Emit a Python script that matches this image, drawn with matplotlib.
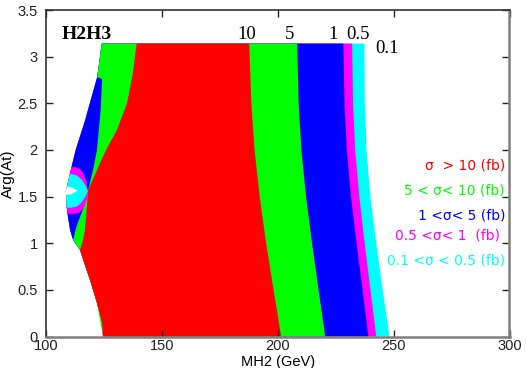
import numpy as np
import matplotlib
matplotlib.use("Agg")
import matplotlib.pyplot as plt
from matplotlib.patches import Polygon

# ---------------- data ----------------
# right-hand contour boundaries MH2 (GeV) versus Arg(At)
y_right = [0.0, 0.5, 1.0, 1.5, 2.0, 2.5, 3.14]
r10 = [201.5, 198.2, 195.0, 192.2, 190.0, 188.6, 187.7]
r5 = [220.5, 217.6, 214.8, 212.2, 210.2, 209.0, 208.4]
r1 = [239.1, 236.6, 234.0, 231.6, 229.8, 228.8, 228.3]
r05 = [242.5, 240.0, 237.5, 235.2, 233.4, 232.5, 232.1]
r01 = [248.2, 245.3, 242.5, 240.0, 238.3, 237.6, 237.4]

# outer left edge of the allowed region
outer_y = [0.0, 0.145, 0.359, 0.606, 0.766, 0.927, 1.034, 1.142, 1.281, 1.410,
           1.560, 1.656, 1.785, 1.999, 2.320, 2.535, 2.781, 2.964, 3.14]
outer_x = [124.6, 124.2, 122.0, 119.0, 116.8, 114.7, 111.7, 110.4, 109.5, 108.8,
           108.6, 109.5, 110.7, 112.8, 116.9, 119.3, 122.1, 123.1, 124.0]

# left edge of the 5 fb (green) region
l5_y = [0.0, 0.359, 0.606, 0.927, 1.034, 1.174, 1.281, 1.410, 1.560, 1.785,
        1.999, 2.428, 2.760, 2.781, 2.964, 3.14]
l5_x = [124.6, 122.0, 119.0, 114.7, 111.7, 113.1, 114.7, 116.6, 118.1, 120.3,
        122.0, 123.6, 124.2, 122.1, 123.1, 124.0]

# left edge of the 10 fb (red) region
l10_y = [0.0, 0.145, 0.359, 0.606, 0.766, 0.927, 1.034, 1.142, 1.281, 1.410,
         1.560, 1.785, 1.999, 2.213, 2.503, 2.824, 3.14]
l10_x = [124.6, 124.2, 122.0, 119.0, 116.8, 114.7, 116.0, 116.8, 117.3, 117.7,
         118.1, 122.0, 125.9, 130.6, 135.0, 137.5, 139.1]

# dip near Arg(At) ~ pi/2
blob05_x = [106.0, 112.5, 114.6, 116.4, 117.6, 118.1, 117.6, 116.4, 114.6, 112.5, 106.0]
blob05_y = [1.815, 1.815, 1.80, 1.74, 1.65, 1.56, 1.47, 1.38, 1.33, 1.315, 1.315]
blob01_x = [106.0, 111.0, 113.4, 115.5, 117.2, 118.1, 117.2, 115.5, 113.4, 111.0, 106.0]
blob01_y = [1.735, 1.74, 1.725, 1.68, 1.61, 1.56, 1.51, 1.44, 1.395, 1.38, 1.385]
notch_x = [106.0, 111.0, 113.8, 111.0, 106.0]
notch_y = [1.61, 1.60, 1.565, 1.525, 1.51]

level_labels = ["10", "5", "1", "0.5", "0.1"]
level_label_x = [186.6, 204.9, 223.7, 234.6, 247.0]
level_label_y = [3.189, 3.189, 3.189, 3.189, 3.036]

legend_texts = ["σ  > 10 (fb)", "5 < σ< 10 (fb)", "1 <σ< 5 (fb)",
                "0.5 <σ< 1  (fb)", "0.1 <σ < 0.5 (fb)"]
legend_y = [1.785, 1.527, 1.249, 1.045, 0.777]
legend_x = [298.1, 298.1, 298.1, 296.0, 298.1]

xticks = [100, 150, 200, 250, 300]
yticks = [0, 0.5, 1, 1.5, 2, 2.5, 3, 3.5]
ytick_labels = ["0", "0.5", "1", "1.5", "2", "2.5", "3", "3.5"]

RED, GREEN, BLUE, MAG, CYAN = "#ff0000", "#00ff00", "#0000ff", "#ff00ff", "#00ffff"
legend_colors = [RED, GREEN, BLUE, MAG, CYAN]

# ---------------- figure ----------------
W, H = 526, 368
fig = plt.figure(figsize=(W / 100, H / 100), dpi=100)
ax = fig.add_axes([46 / W, 1 - 336.5 / H, 463.5 / W, 326.5 / H])
ax.set_xlim(100, 300)
ax.set_ylim(0, 3.5)


def band(lx, ly, rx, ry, color):
    xs = np.r_[lx, np.asarray(rx)[::-1]]
    ys = np.r_[ly, np.asarray(ry)[::-1]]
    return ax.fill(xs, ys, color=color, lw=0, zorder=1)[0]


base = band(outer_x, outer_y, r01, y_right, CYAN)
band(outer_x, outer_y, r05, y_right, MAG)
band(outer_x, outer_y, r1, y_right, BLUE)
band(l5_x, l5_y, r5, y_right, GREEN)
band(l10_x, l10_y, r10, y_right, RED)

for bx, by, c in [(blob05_x, blob05_y, MAG), (blob01_x, blob01_y, CYAN),
                  (notch_x, notch_y, "white")]:
    p = Polygon(np.column_stack([bx, by]), closed=True, facecolor=c, lw=0, zorder=2)
    ax.add_patch(p)
    p.set_clip_path(base)

# text annotations
ax.text(106.9, 3.186, "H2H3", family="Liberation Serif", fontweight="bold",
        fontsize=14, va="baseline", ha="left")
for lab, lx, ly in zip(level_labels, level_label_x, level_label_y):
    ax.text(lx, ly, lab, family="Liberation Serif", fontsize=13.5,
            va="baseline", ha="center")
for t, lx, ly, c in zip(legend_texts, legend_x, legend_y, legend_colors):
    ax.text(lx, ly, t, color=c, family="DejaVu Sans", fontsize=10,
            va="baseline", ha="right")

# axes styling
ax.set_xticks(xticks)
ax.set_xticklabels([str(v) for v in xticks])
ax.set_yticks(yticks)
ax.set_yticklabels(ytick_labels)
ax.tick_params(direction="in", length=5, width=1, top=True, right=True,
               labelsize=10.5, pad=2, colors="#222222")
for lab in ax.get_xticklabels() + ax.get_yticklabels():
    lab.set_family("Liberation Sans")
ax.tick_params(axis="y", pad=6)
for s in ["left", "top"]:
    ax.spines[s].set_color("#333333")
    ax.spines[s].set_linewidth(1.2)
for s in ["right", "bottom"]:
    ax.spines[s].set_color("#808080")
    ax.spines[s].set_linewidth(1.8)

ax.set_xlabel("MH2 (GeV)", family="Liberation Sans", fontsize=10.5, labelpad=1)
ax.set_ylabel("Arg(At)", family="Liberation Sans", fontsize=11, labelpad=2)

fig.savefig("out.png", dpi=100)
